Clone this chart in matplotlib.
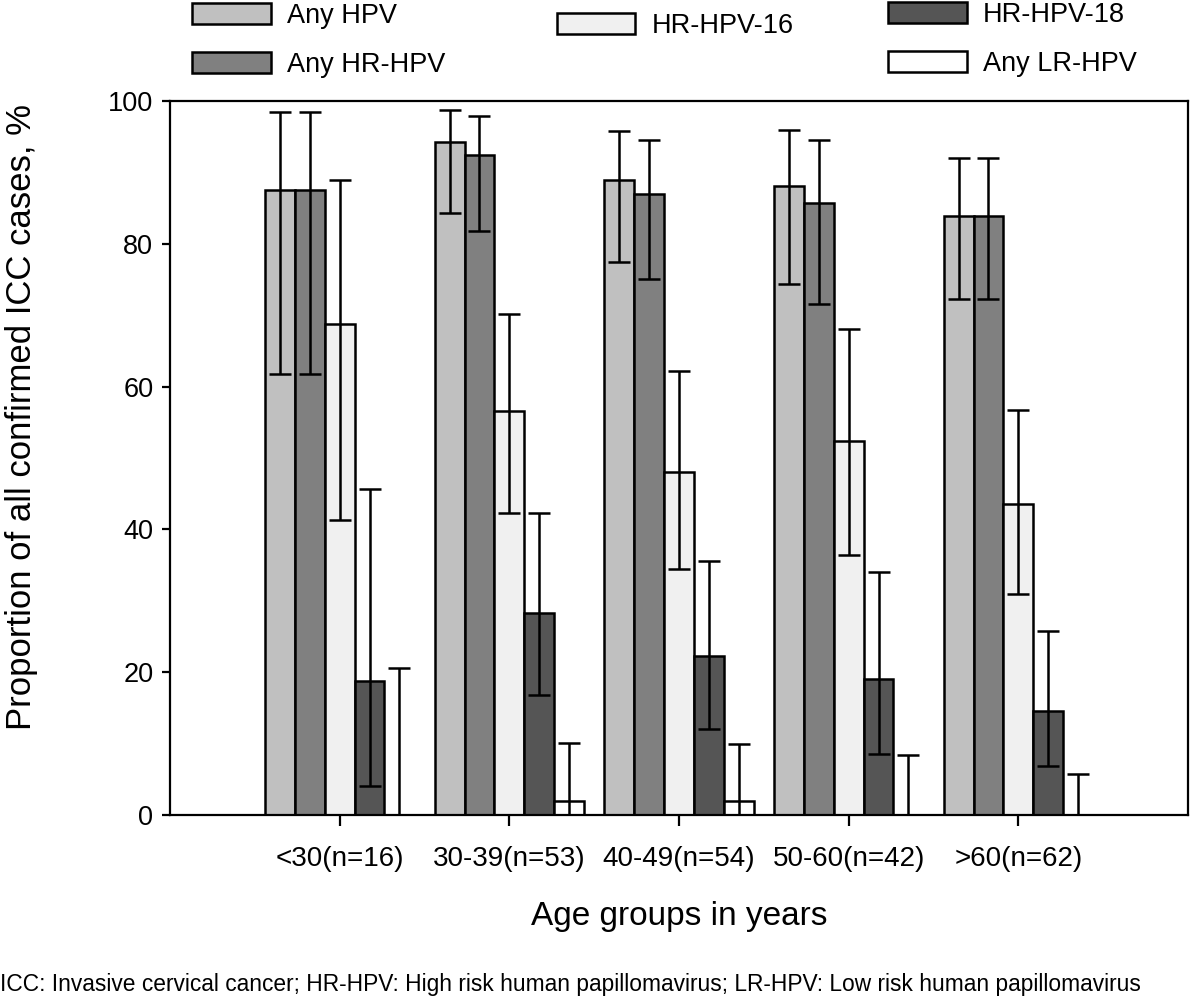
import matplotlib.pyplot as plt
import numpy as np

plt.rcParams['font.family'] = ['Liberation Sans', 'DejaVu Sans']

groups = ['<30(n=16)', '30-39(n=53)', '40-49(n=54)', '50-60(n=42)', '>60(n=62)']
series = ['Any HPV', 'Any HR-HPV', 'HR-HPV-16', 'HR-HPV-18', 'Any LR-HPV']
colors = ['#c0c0c0', '#808080', '#f0f0f0', '#555555', '#ffffff']

# proportions (%) and 95% CI bounds, one row per series
values = [
    [87.5, 94.3, 88.9, 88.1, 83.9],
    [87.5, 92.5, 87.0, 85.7, 83.9],
    [68.8, 56.6, 48.1, 52.4, 43.5],
    [18.8, 28.3, 22.2, 19.0, 14.5],
    [0.0, 1.9, 1.9, 0.0, 0.0],
]
ci_low = [
    [61.7, 84.3, 77.4, 74.4, 72.3],
    [61.7, 81.8, 75.1, 71.5, 72.3],
    [41.3, 42.3, 34.4, 36.4, 31.0],
    [4.0, 16.8, 12.0, 8.6, 6.9],
    [0.0, 0.05, 0.05, 0.0, 0.0],
]
ci_high = [
    [98.5, 98.8, 95.8, 96.0, 92.0],
    [98.5, 97.9, 94.6, 94.6, 92.0],
    [89.0, 70.2, 62.2, 68.0, 56.7],
    [45.6, 42.3, 35.6, 34.1, 25.8],
    [20.6, 10.1, 9.9, 8.4, 5.8],
]

fig = plt.figure(figsize=(12, 10), dpi=100)
ax = fig.add_axes([0.1417, 0.185, 0.8483, 0.714])

x = np.arange(1, len(groups) + 1)
width = 0.176
handles = []
for i, name in enumerate(series):
    vals = np.array(values[i])
    lo = np.array(ci_low[i])
    hi = np.array(ci_high[i])
    pos = x + (i - 2) * width
    b = ax.bar(pos, vals, width, color=colors[i], edgecolor='black', linewidth=1.8,
               label=name, zorder=2)
    handles.append(b)
    ax.errorbar(pos, vals, yerr=[vals - lo, hi - vals], fmt='none', ecolor='black',
                elinewidth=1.8, capsize=8, capthick=1.8, zorder=3)

ax.set_xlim(0, 6)
ax.set_ylim(0, 100)
ax.set_xticks(x)
ax.set_xticklabels(groups, fontsize=20)
ax.set_yticks(np.arange(0, 101, 20))
ax.tick_params(axis='y', labelsize=19.5, direction='out', length=6, width=1.6, pad=6)
ax.tick_params(axis='x', direction='out', length=8, width=1.6, pad=14)
for sp in ax.spines.values():
    sp.set_linewidth(1.6)

ax.set_xlabel('Age groups in years', fontsize=24)
ax.xaxis.set_label_coords(0.5, -0.12)
ax.set_ylabel('Proportion of all confirmed ICC cases, %', fontsize=25)
ax.yaxis.set_label_coords(-0.13, 0.557)

leg_kw = dict(frameon=False, fontsize=19.5, handlelength=2.9, handleheight=0.8,
              handletextpad=0.6, labelspacing=0.85, borderaxespad=0, borderpad=0)
fig.legend([handles[0], handles[1]], series[:2], loc='upper left',
           bbox_to_anchor=(0.16, 0.997), **leg_kw)
fig.legend([handles[2]], [series[2]], loc='upper left',
           bbox_to_anchor=(0.464, 0.987), **leg_kw)
fig.legend([handles[3], handles[4]], [series[3], series[4]], loc='upper left',
           bbox_to_anchor=(0.74, 0.998), **leg_kw)

fig.text(0.0, 0.015, 'ICC: Invasive cervical cancer; HR-HPV: High risk human papillomavirus; '
         'LR-HPV: Low risk human papillomavirus', fontsize=16.4, ha='left', va='center')

fig.savefig('out.png', dpi=100)
